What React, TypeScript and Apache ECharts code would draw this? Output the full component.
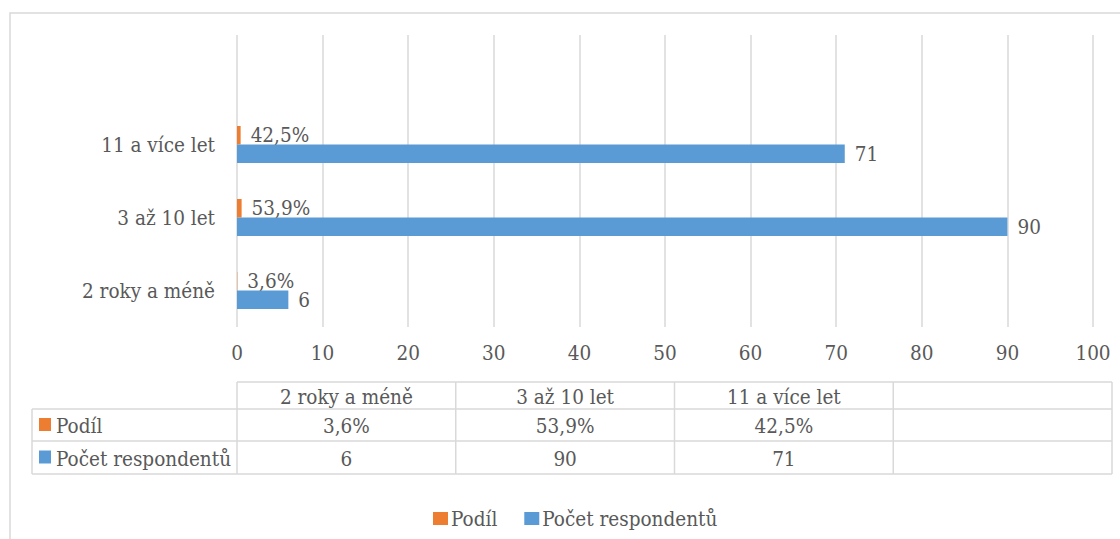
import React, { useEffect, useRef } from "react";
import * as echarts from "echarts";

// Categories from bottom to top; the last one is an empty slot at the top
const categories = ["2 roky a méně", "3 až 10 let", "11 a více let", ""];
const seriesNames = ["Podíl", "Počet respondentů"];
const podil = [0.036, 0.539, 0.425];
const pocet = [6, 90, 71];
const axisMin = 0;
const axisMax = 100;
const axisInterval = 10;

const ORANGE = "#ED7D31";
const BLUE = "#5B9BD5";
const TEXT = "#595959";
const LINE = "#D9D9D9";
const FONT = "DejaVu Serif Condensed";
const FS = 20.5;

const fmtPct = (v: number) => (v * 100).toFixed(1).replace(".", ",") + "%";

// Plot and data-table geometry
const W = 1120;
const H = 539;
const plotLeft = 237;
const plotRight = 1093;
const plotTop = 35;
const plotBottom = 327;
const tableLeft = 32;
const tableRight = 1112;
const tableRows = [382, 409, 441, 474];

export default function App() {
  const ref = useRef<HTMLDivElement>(null);

  useEffect(() => {
    if (!ref.current) return;
    const chart = echarts.init(ref.current, null, { renderer: "svg" });

    const colCount = categories.length;
    const colW = (tableRight - plotLeft) / colCount;
    const rowMid = (i: number) => (tableRows[i] + tableRows[i + 1]) / 2;
    const lineStyle = { stroke: LINE, lineWidth: 1.5 };
    const textStyle = (text: string, x: number, y: number, align = "center") => ({
      type: "text",
      style: {
        text,
        x,
        y,
        align,
        verticalAlign: "middle",
        fill: TEXT,
        fontFamily: FONT,
        fontSize: FS,
      },
    });

    const graphics: any[] = [];
    // outer frame
    graphics.push({
      type: "rect",
      shape: { x: 10, y: 13, width: 1200, height: 600 },
      style: { fill: "none", stroke: LINE, lineWidth: 1.5 },
      silent: true,
    });
    // horizontal table lines
    graphics.push({ type: "line", shape: { x1: plotLeft, y1: tableRows[0], x2: tableRight, y2: tableRows[0] }, style: lineStyle });
    for (let r = 1; r < tableRows.length; r++) {
      graphics.push({ type: "line", shape: { x1: tableLeft, y1: tableRows[r], x2: tableRight, y2: tableRows[r] }, style: lineStyle });
    }
    // vertical table lines
    graphics.push({ type: "line", shape: { x1: tableLeft, y1: tableRows[1], x2: tableLeft, y2: tableRows[3] }, style: lineStyle });
    for (let c = 0; c <= colCount; c++) {
      const x = plotLeft + c * colW;
      graphics.push({ type: "line", shape: { x1: x, y1: tableRows[0], x2: x, y2: tableRows[3] }, style: lineStyle });
    }
    // header row
    categories.forEach((cat, c) => {
      if (cat) graphics.push(textStyle(cat, plotLeft + (c + 0.5) * colW, rowMid(0) + 1));
    });
    // row headers with series keys
    const rowValues = [podil.map(fmtPct), pocet.map(String)];
    const rowColors = [ORANGE, BLUE];
    seriesNames.forEach((name, r) => {
      const y = rowMid(r + 1);
      graphics.push({
        type: "rect",
        shape: { x: 39, y: y - 7, width: 12, height: 13 },
        style: { fill: rowColors[r] },
      });
      graphics.push(textStyle(name, 56, y + 1, "left"));
      rowValues[r].forEach((v, c) => {
        graphics.push(textStyle(v, plotLeft + (c + 0.5) * colW, y + 1));
      });
    });

    chart.setOption({
      animation: false,
      grid: {
        left: plotLeft,
        right: W - plotRight,
        top: plotTop,
        bottom: H - plotBottom,
        containLabel: false,
      },
      legend: {
        data: seriesNames,
        left: 428,
        top: 503,
        icon: "rect",
        itemWidth: 15,
        itemHeight: 13,
        itemGap: 27,
        textStyle: { color: TEXT, fontFamily: FONT, fontSize: FS, padding: [0, 0, 0, -2] },
      },
      xAxis: {
        type: "value",
        min: axisMin,
        max: axisMax,
        interval: axisInterval,
        axisLine: { show: false },
        axisTick: { show: false },
        axisLabel: { color: TEXT, fontFamily: FONT, fontSize: FS, margin: 15 },
        splitLine: { show: true, lineStyle: { color: LINE, width: 1.5 } },
      },
      yAxis: {
        type: "category",
        data: categories,
        axisLine: { show: false },
        axisTick: { show: false },
        axisLabel: { color: TEXT, fontFamily: FONT, fontSize: FS, margin: 22 },
        splitLine: { show: false },
      },
      series: [
        {
          name: seriesNames[0],
          type: "bar",
          data: podil,
          barWidth: 18.5,
          barGap: "0%",
          itemStyle: { color: ORANGE },
          label: {
            show: true,
            position: "right",
            distance: 10,
            color: TEXT,
            fontFamily: FONT,
            fontSize: FS,
            formatter: (p: any) => fmtPct(p.value),
          },
        },
        {
          name: seriesNames[1],
          type: "bar",
          data: pocet,
          barWidth: 18.5,
          barGap: "0%",
          itemStyle: { color: BLUE },
          label: {
            show: true,
            position: "right",
            distance: 10,
            color: TEXT,
            fontFamily: FONT,
            fontSize: FS,
          },
        },
      ],
      graphic: graphics,
    });

    return () => chart.dispose();
  }, []);

  return (
    <div
      ref={ref}
      style={{ position: "absolute", left: 0, top: 0, width: W, height: H, background: "#fff" }}
    />
  );
}
